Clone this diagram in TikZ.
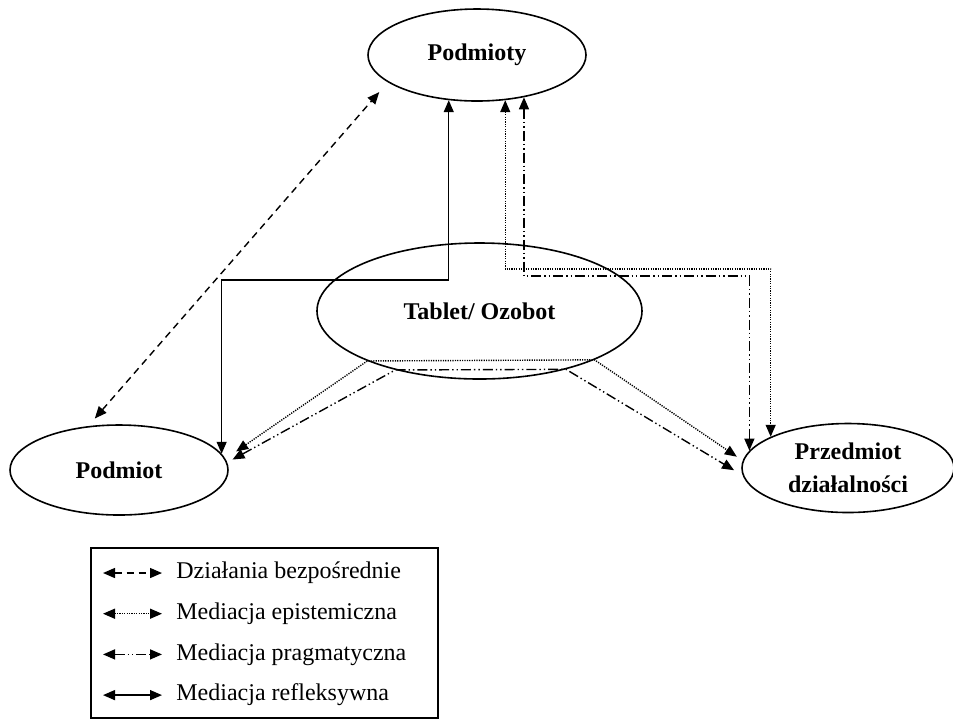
\documentclass[tikz,border=0pt]{standalone}
\usepackage{fontspec}
\setmainfont{Liberation Serif}
\usetikzlibrary{shapes.geometric,arrows.meta}

\begin{document}
\begin{tikzpicture}[x=0.5pt, y=-0.5pt,
    >={Triangle[length=6pt,width=5pt]},
    every node/.style={font=\fontsize{12}{16.5}\selectfont},
    actor/.style={ellipse, draw, line width=0.8pt, inner sep=0pt, align=center,
      font=\fontsize{12}{16.5}\selectfont\bfseries},
    direct/.style={<->, line width=0.7pt, dash pattern=on 3.5pt off 2.5pt},
    episte/.style={<->, line width=0.7pt, dash pattern=on 0.6pt off 0.6pt},
    pragma/.style={<->, line width=0.7pt,
      dash pattern=on 5pt off 1.5pt on 0.7pt off 1.5pt on 0.7pt off 1.5pt},
    reflex/.style={<->, line width=0.7pt}]
  \useasboundingbox (0,0) rectangle (953,720);
  % Ellipses
  \node[actor, minimum width=109pt, minimum height=46pt] (podmioty) at (477,55) {Podmioty};
  \node[actor, minimum width=162.5pt, minimum height=68pt] (tablet) at (479.5,311) {Tablet/ Ozobot};
  \node[actor, minimum width=109pt, minimum height=45pt] (podmiot) at (119,470) {Podmiot};
  \node[actor, minimum width=106pt, minimum height=44.5pt] (przedmiot) at (848,468)
    {Przedmiot\\działalności};
  % Bends of the routed connectors
  \coordinate (refbend) at (podmiot.9.5 |- 0,280);
  \coordinate (epibend) at (przedmiot.158.3 |- 0,269);
  \coordinate (pragbend) at (przedmiot.170.2 |- 0,276);
  % Direct action
  \draw[direct, shorten <=5pt, shorten >=6.5pt] (podmiot.125.4) -- (podmioty.-163.6);
  % Reflexive mediation
  \draw[reflex] (podmioty.-122) |- (refbend) -- (podmiot.9.5);
  % Epistemic mediation
  \draw[episte] (podmioty.-58) |- (epibend) -- (przedmiot.158.3);
  \draw[episte, shorten <=6.5pt, shorten >=3.5pt]
    (podmiot.6.4) -- (tablet.-156.5) -- (tablet.-23.5) -- (przedmiot.176.7);
  % Pragmatic mediation
  \draw[pragma] (podmioty.-42) |- (pragbend) -- (przedmiot.170.2);
  \draw[pragma, shorten <=3pt, shorten >=5pt]
    (podmiot.4.9) -- (tablet.-145.6) -- (tablet.-34.4) -- (przedmiot.-176.7);
  % Legend
  \draw[line width=0.7pt] (91,548) rectangle (438,718);
  \foreach \sty/\txt [count=\i from 0] in {direct/Działania bezpośrednie,
      episte/Mediacja epistemiczna, pragma/Mediacja pragmatyczna,
      reflex/Mediacja refleksywna} {
    \node[anchor=west, inner sep=0pt] (lbl\i) at (176,573+40.7*\i) {\txt};
    \coordinate (key\i) at (103,573+40.7*\i);
    \draw[\sty] (key\i) -- ([xshift=-7pt]lbl\i.west);
  }
\end{tikzpicture}
\end{document}
